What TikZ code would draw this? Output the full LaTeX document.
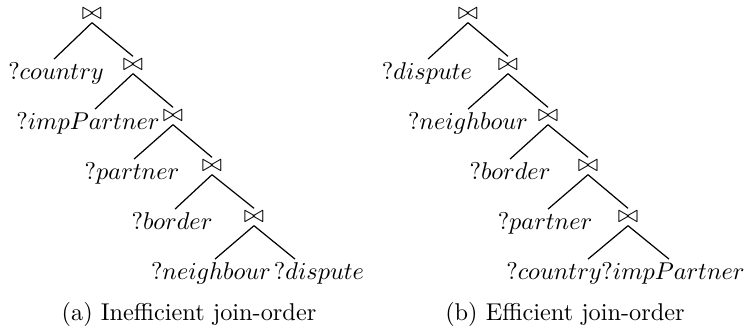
\documentclass[tikz,border=0pt]{standalone}
\usepackage{amsmath}
\begin{document}
\begin{tikzpicture}[x=0.4115pt,y=-0.4115pt,line width=.5pt,joinop/.style={inner sep=1pt},var/.style={inner sep=1pt,anchor=base}]
	\useasboundingbox (0,0) rectangle (745,327);
	% (a) inefficient join-order
	\foreach \n/\x/\y in {a1/92/14,a2/133/65,a3/173/116,a4/212/166,a5/254/217}\node[joinop](\n) at (\x,\y){$\bowtie$};
	\foreach \a/\b in {a1/a2,a2/a3,a3/a4,a4/a5}\draw(\a.south)--(\b.north);
	\foreach \p/\n/\x/\y/\s/\t in {a1/ac/56/79/-2/country, a2/ai/88/129/7/impPartner, a3/ap/132/179/2/partner, a4/ab/172/229/3/border, a5/an/211/279/4/neighbour, a5/ad/319/279/-24/dispute}{
		\node[var](\n) at (\x,\y){$?\t$};
		\draw(\p.south)--([xshift=\s*0.4115pt]\n.north);
	}
	\node[anchor=base](capa) at (189,320){(a) Inefficient join-order};
	% (b) efficient join-order
	\foreach \n/\x/\y in {b1/468/14,b2/508/65,b3/548/116,b4/588/166,b5/628/217}\node[joinop](\n) at (\x,\y){$\bowtie$};
	\foreach \a/\b in {b1/b2,b2/b3,b3/b4,b4/b5}\draw(\a.south)--(\b.north);
	\foreach \p/\n/\x/\y/\s/\t in {b1/bd/427/79/1/dispute, b2/bn/468/129/0/neighbour, b3/bb/510/179/0/border, b4/bp/545/229/3/partner, b5/bc/554/279/34/country, b5/bi/673/279/-4/impPartner}{
		\node[var](\n) at (\x,\y){$?\t$};
		\draw(\p.south)--([xshift=\s*0.4115pt]\n.north);
	}
	\node[anchor=base](capb) at (565,320){(b) Efficient join-order};
\end{tikzpicture}
\end{document}
